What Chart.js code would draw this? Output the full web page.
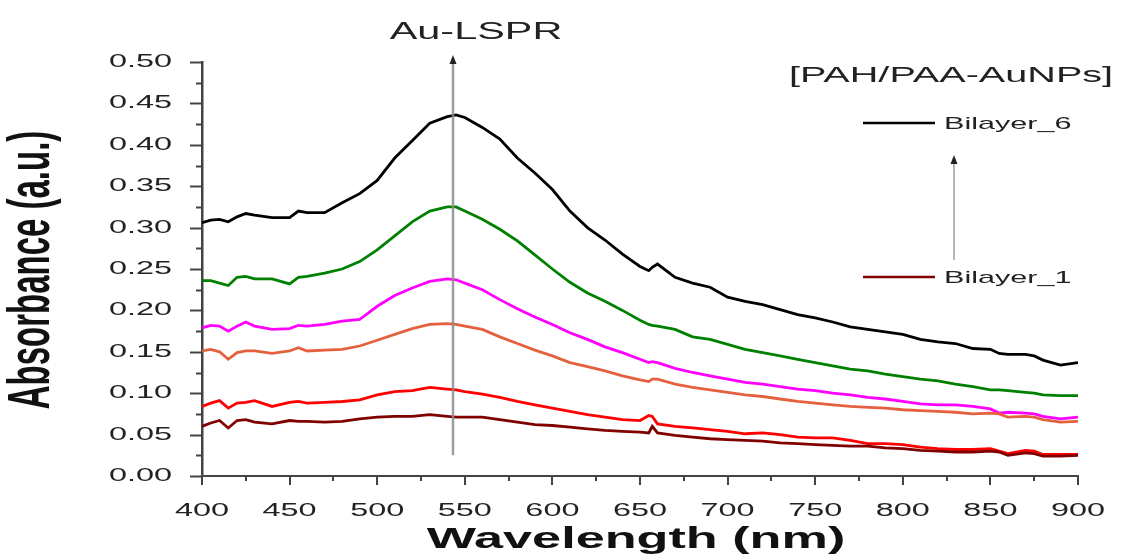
<!DOCTYPE html>
<html>
<head>
<meta charset="utf-8">
<title>Absorbance spectra</title>
<script src="https://cdn.jsdelivr.net/npm/chart.js@4.4.0/dist/chart.umd.min.js"></script>
<style>
  html, body { margin: 0; padding: 0; background: #fff; }
  #wrap { width: 1122px; height: 557px; }
</style>
</head>
<body>
<div id="wrap"><canvas id="spectra" width="1122" height="557"></canvas></div>
<script>
// wavelength grid (nm) shared by all spectra
var wavelength = [400, 405, 410, 415, 420, 425, 430, 440, 450, 455, 460, 470, 480, 490, 500,
    510, 520, 530, 540, 545, 550, 560, 570, 580, 590, 600, 610, 620, 630, 640, 650,
    655, 657, 660, 670, 680, 690, 700, 710, 720, 730, 740, 750, 760, 770, 780, 790,
    800, 810, 820, 830, 840, 850, 855, 860, 870, 875, 880, 890, 900];

var bilayer1 = [.060, .064, .067, .058, .067, .068, .065, .063, .067, .066, .066, .065, .066, .069, .071,
    .072, .072, .074, .072, .071, .071, .071, .068, .065, .062, .061, .059, .057, .055, .054, .053,
    .052, .060, .052, .049, .047, .045, .044, .043, .042, .040, .039, .038, .037, .036, .036, .034,
    .033, .031, .030, .029, .029, .030, .029, .025, .028, .027, .024, .024, .025];

var bilayer2 = [.084, .088, .091, .082, .088, .089, .091, .084, .089, .090, .088, .089, .090, .092, .098,
    .102, .103, .107, .105, .104, .102, .099, .095, .090, .086, .082, .078, .074, .071, .068, .067,
    .073, .072, .063, .060, .058, .056, .054, .051, .052, .050, .047, .046, .046, .043, .039, .039,
    .038, .035, .033, .032, .032, .033, .030, .027, .031, .030, .026, .026, .026];

var bilayer3 = [.151, .153, .150, .141, .149, .151, .151, .148, .151, .155, .151, .152, .153, .157, .164,
    .171, .178, .183, .184, .183, .181, .177, .168, .160, .152, .145, .137, .132, .127, .121, .116,
    .114, .117, .117, .111, .107, .104, .101, .098, .096, .093, .090, .088, .086, .084, .083, .082,
    .080, .079, .078, .077, .075, .076, .075, .071, .072, .071, .068, .065, .066];

var bilayer4 = [.179, .182, .181, .175, .181, .186, .181, .177, .178, .182, .181, .183, .187, .189, .205,
    .218, .227, .235, .238, .237, .233, .225, .213, .202, .192, .183, .173, .165, .156, .149, .141,
    .137, .138, .137, .130, .125, .121, .117, .113, .111, .108, .105, .103, .100, .098, .095, .093,
    .090, .087, .086, .086, .084, .081, .076, .077, .076, .075, .072, .069, .071];

var bilayer5 = [.236, .236, .233, .230, .240, .241, .238, .238, .232, .240, .241, .245, .250, .259, .273,
    .290, .307, .320, .325, .325, .320, .310, .298, .284, .267, .250, .234, .221, .211, .200, .188,
    .183, .182, .181, .177, .168, .165, .159, .153, .149, .145, .141, .137, .133, .129, .127, .123,
    .120, .117, .115, .111, .108, .104, .104, .103, .101, .100, .098, .097, .097];

var bilayer6 = [.306, .309, .310, .307, .313, .317, .315, .312, .312, .320, .318, .318, .330, .341, .357,
    .384, .405, .426, .434, .436, .433, .421, .407, .384, .366, .346, .320, .300, .285, .268, .253,
    .248, .252, .256, .240, .233, .228, .216, .211, .207, .201, .195, .191, .186, .180, .177, .174,
    .171, .165, .162, .160, .154, .153, .148, .147, .147, .145, .140, .134, .137];

var seriesNames = ['Bilayer_1', 'Bilayer_2', 'Bilayer_3', 'Bilayer_4', 'Bilayer_5', 'Bilayer_6'];
var seriesColors = ['#800000', '#ff0000', '#e5603f', '#ff00ff', '#008000', '#000000'];

var xTicks = ['400', '450', '500', '550', '600', '650', '700', '750', '800', '850', '900'];
var yTicks = ['0.00', '0.05', '0.10', '0.15', '0.20', '0.25', '0.30', '0.35', '0.40', '0.45', '0.50'];

var lsprWavelength = 543;

// text in this figure is drawn horizontally widened
var SX = 1.8;
var FONT = '"Liberation Sans", Arial, sans-serif';

function toPoints(ys) {
    return wavelength.map(function (w, i) { return {x: w, y: ys[i]}; });
}

function wideText(ctx, text, x, y, font, color, align, baseline) {
    ctx.save();
    ctx.font = font;
    ctx.fillStyle = color;
    ctx.textAlign = align;
    ctx.textBaseline = baseline;
    ctx.translate(x, y);
    ctx.scale(SX, 1);
    ctx.fillText(text, 0, 0);
    ctx.restore();
}

function upArrow(ctx, x, yBottom, yTip, lineColor, lineWidth, headColor) {
    ctx.save();
    ctx.strokeStyle = lineColor;
    ctx.lineWidth = lineWidth;
    ctx.beginPath();
    ctx.moveTo(x, yBottom);
    ctx.lineTo(x, yTip + 7);
    ctx.stroke();
    ctx.fillStyle = headColor;
    ctx.beginPath();
    ctx.moveTo(x, yTip);
    ctx.lineTo(x - 3.5, yTip + 9);
    ctx.lineTo(x + 3.5, yTip + 9);
    ctx.closePath();
    ctx.fill();
    ctx.restore();
}

var decorations = {
    id: 'decorations',
    afterDatasetsDraw: function (chart) {
        var ctx = chart.ctx;
        var xs = chart.scales.x, ys = chart.scales.y;
        var xl = Math.round(xs.getPixelForValue(lsprWavelength));
        upArrow(ctx, xl, ys.getPixelForValue(0.025), ys.getPixelForValue(0.5) - 7,
            'rgba(140,140,140,0.85)', 2.5, '#222');
    },
    afterDraw: function (chart) {
        var ctx = chart.ctx;
        var xs = chart.scales.x, ys = chart.scales.y;
        var left = chart.chartArea.left, bottom = chart.chartArea.bottom;

        ctx.save();
        ctx.strokeStyle = '#444';
        ctx.lineWidth = 2;
        // y ticks, major every 0.05 with a minor in between
        for (var i = 0; i <= 20; i++) {
            var py = Math.round(ys.getPixelForValue(i * 0.025)) + 0.5;
            var len = i % 2 === 0 ? 12 : 6;
            ctx.beginPath();
            ctx.moveTo(left - len, py);
            ctx.lineTo(left, py);
            ctx.stroke();
        }
        // x ticks, major every 50 nm
        for (var j = 0; j <= 20; j++) {
            var px = Math.round(xs.getPixelForValue(400 + j * 25));
            var tl = j % 2 === 0 ? 9 : 5;
            ctx.beginPath();
            ctx.moveTo(px, bottom);
            ctx.lineTo(px, bottom + tl);
            ctx.stroke();
        }
        ctx.restore();

        var tickFont = '18px ' + FONT;
        yTicks.forEach(function (t) {
            wideText(ctx, t, 172, ys.getPixelForValue(parseFloat(t)), tickFont, '#222', 'right', 'middle');
        });
        xTicks.forEach(function (t) {
            wideText(ctx, t, xs.getPixelForValue(parseFloat(t)), 516, tickFont, '#222', 'center', 'alphabetic');
        });

        // axis titles
        wideText(ctx, 'Wavelength (nm)', 636, 548, 'bold 29px ' + FONT, '#111', 'center', 'alphabetic');
        ctx.save();
        ctx.font = 'bold 33px ' + FONT;
        ctx.fillStyle = '#111';
        ctx.textAlign = 'center';
        ctx.textBaseline = 'middle';
        ctx.translate(33, 270);
        ctx.scale(SX, 1);
        ctx.rotate(-Math.PI / 2);
        ctx.fillText('Absorbance (a.u.)', 0, 0);
        ctx.restore();

        // annotations
        wideText(ctx, 'Au-LSPR', 476, 39, '23px ' + FONT, '#222', 'center', 'alphabetic');
        wideText(ctx, '[PAH/PAA-AuNPs]', 951, 82, '22px ' + FONT, '#222', 'center', 'alphabetic');

        // legend: first and last layer with an arrow between them
        var legendRows = [{idx: 5, y: 123}, {idx: 0, y: 277}];
        legendRows.forEach(function (r) {
            var ds = chart.data.datasets[r.idx];
            ctx.save();
            ctx.strokeStyle = ds.borderColor;
            ctx.lineWidth = 2.5;
            ctx.beginPath();
            ctx.moveTo(863, r.y);
            ctx.lineTo(935, r.y);
            ctx.stroke();
            ctx.restore();
            wideText(ctx, ds.label, 944, r.y + 1, '17px ' + FONT, '#222', 'left', 'middle');
        });
        upArrow(ctx, 954, 260, 155, 'rgba(140,140,140,0.85)', 1.5, '#222');
    }
};

var ctx = document.getElementById('spectra').getContext('2d');
var allSeries = [bilayer1, bilayer2, bilayer3, bilayer4, bilayer5, bilayer6];

new Chart(ctx, {
    type: 'line',
    data: {
        datasets: allSeries.map(function (s, i) {
            return {
                label: seriesNames[i],
                data: toPoints(s),
                borderColor: seriesColors[i],
                backgroundColor: seriesColors[i],
                borderWidth: 2.8,
                pointRadius: 0,
                tension: 0,
                fill: false
            };
        })
    },
    options: {
        responsive: false,
        animation: false,
        events: [],
        layout: {padding: {left: 194, right: 44, top: 62, bottom: 73}},
        plugins: {
            legend: {display: false},
            tooltip: {enabled: false}
        },
        scales: {
            x: {
                type: 'linear',
                min: 400,
                max: 900,
                grid: {display: false},
                ticks: {display: false},
                border: {display: true, color: '#444', width: 2}
            },
            y: {
                min: 0,
                max: 0.5,
                grid: {display: false},
                ticks: {display: false},
                border: {display: true, color: '#444', width: 2.5}
            }
        }
    },
    plugins: [decorations]
});
</script>
</body>
</html>
